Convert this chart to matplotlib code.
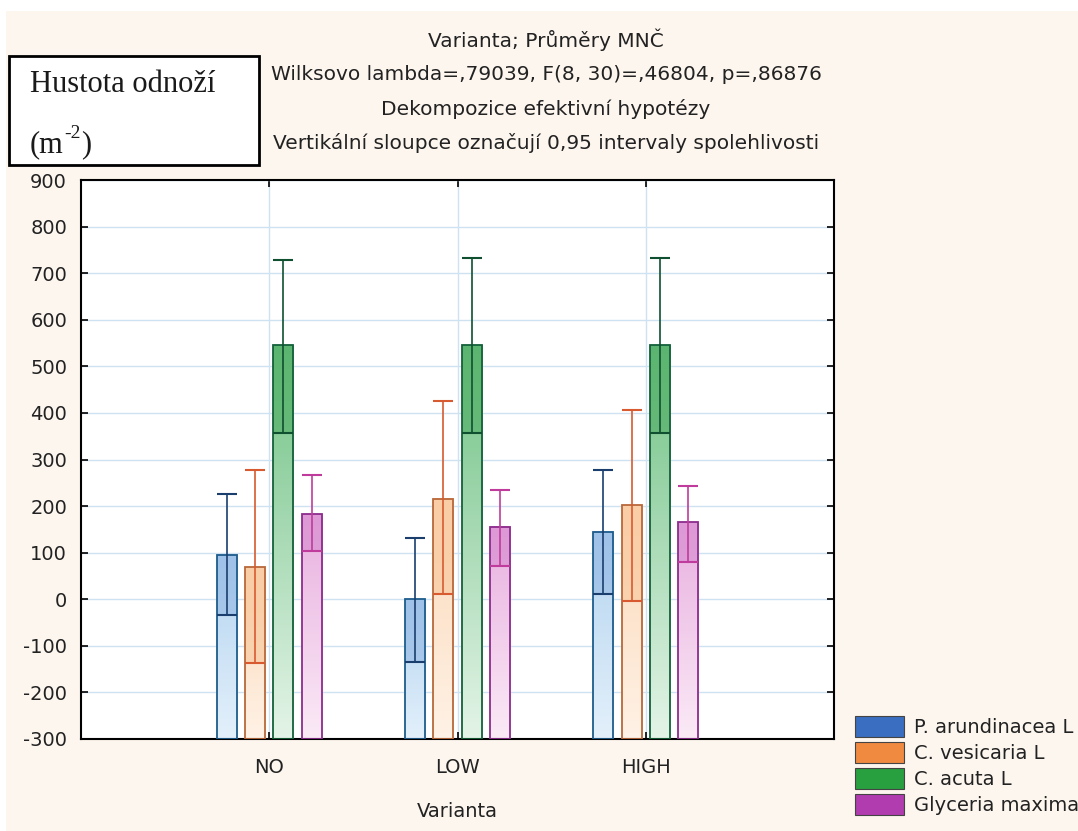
import numpy as np
import matplotlib
matplotlib.use("Agg")
import matplotlib.pyplot as plt
from matplotlib.colors import LinearSegmentedColormap
from matplotlib.patches import Patch, Rectangle
from matplotlib.transforms import offset_copy

plt.rcParams["axes.unicode_minus"] = False

# data
categories = ["NO", "LOW", "HIGH"]
series = ["P. arundinacea L", "C. vesicaria L", "C. acuta L", "Glyceria maxima"]
means = {
    "P. arundinacea L": [96, 0, 145],
    "C. vesicaria L": [69, 216, 202],
    "C. acuta L": [545, 545, 545],
    "Glyceria maxima": [182, 156, 165],
}
upper = {
    "P. arundinacea L": [227, 132, 278],
    "C. vesicaria L": [278, 426, 407],
    "C. acuta L": [729, 733, 733],
    "Glyceria maxima": [266, 235, 244],
}
lower = {
    "P. arundinacea L": [-34, -134, 11],
    "C. vesicaria L": [-137, 11, -4],
    "C. acuta L": [356, 356, 356],
    "Glyceria maxima": [103, 71, 81],
}
yticks = list(range(-300, 1000, 100))

title_lines = [
    "Varianta; Průměry MNČ",
    "Wilksovo lambda=,79039, F(8, 30)=,46804, p=,86876",
    "Dekompozice efektivní hypotézy",
    "Vertikální sloupce označují 0,95 intervaly spolehlivosti",
]

# styling per series: legend colour, gradient bottom/top, CI shade, edge, whisker
styles = {
    "P. arundinacea L": ("#3a6ec0", "#e3f0fb", "#b4d4f0", "#8fb4e2", "#1e5c8c", "#1a3f6e"),
    "C. vesicaria L": ("#f08a40", "#fff2e6", "#fbd8b8", "#f8c496", "#b8683a", "#d85a30"),
    "C. acuta L": ("#28a040", "#e4f4e8", "#70c284", "#4aaa5e", "#14603a", "#0f5030"),
    "Glyceria maxima": ("#b03cb0", "#fbeaf6", "#e8b0e0", "#d486cc", "#8c2c8c", "#c03c9c"),
}

W, H = 1078, 831
fig = plt.figure(figsize=(W / 100, H / 100), dpi=100, facecolor="white")
fig.patches.append(Rectangle((6 / W, 0), 1, 1 - 11 / H, transform=fig.transFigure,
                             facecolor="#fdf6ef", edgecolor="none", zorder=-10))

ax = fig.add_axes([81 / W, 1 - 739 / H, (834 - 81) / W, (739 - 180) / H])
ax.set_facecolor("white")

ymin, ymax = -300, 900
x = np.arange(1, len(categories) + 1)
width = 0.107
offsets = [-0.225, -0.075, 0.075, 0.225]
grad = np.linspace(0, 1, 256).reshape(-1, 1)

for s, off in zip(series, offsets):
    col, bot, top, ci, edge, err = styles[s]
    m = np.array(means[s])
    up = np.array(upper[s])
    lo = np.array(lower[s])
    bars = ax.bar(x + off, m - ymin, bottom=ymin, width=width, facecolor="none",
                  edgecolor=edge, linewidth=1.3, zorder=4)
    cmap = LinearSegmentedColormap.from_list(s, [bot, top])
    for rect in bars:
        x0, y0 = rect.get_x(), rect.get_y()
        ax.imshow(grad, extent=(x0, x0 + rect.get_width(), y0, y0 + rect.get_height()),
                  origin="lower", cmap=cmap, aspect="auto", zorder=2)
    # darker band between lower confidence limit and the mean
    ax.bar(x + off, m - lo, bottom=lo, width=width, facecolor=ci, alpha=0.55,
           edgecolor="none", zorder=3)
    ax.errorbar(x + off, m, yerr=[m - lo, up - m], fmt="none", ecolor=err,
                elinewidth=1.2, capsize=7.2, capthick=1.5, zorder=5)

ax.set_xlim(0, 4)
ax.set_ylim(ymin, ymax)
ax.set_yticks(yticks)
ax.set_xticks(x)
ax.set_xticklabels(categories)
ax.grid(True, color="#cfe2f2", linewidth=1.0, zorder=0)
ax.set_axisbelow(True)
for sp in ax.spines.values():
    sp.set_color("black")
    sp.set_linewidth(1.5)
ax.tick_params(axis="both", direction="in", length=5, width=1.2, colors="black",
               labelsize=14, top=True, right=True)
ax.tick_params(axis="y", pad=10)
ax.tick_params(axis="x", pad=14)
for lab in ax.get_xticklabels() + ax.get_yticklabels():
    lab.set_color("#222222")

ax.set_xlabel("Varianta", fontsize=14, color="#222222")
ax.xaxis.set_label_coords(0.5, -0.112)

# title block
for i, line in enumerate(title_lines):
    fig.text(546 / W, 1 - (40 + 34.3 * i) / H, line, ha="center", va="center",
             fontsize=14.5, color="#222222")

# boxed axis caption
fig.patches.append(Rectangle((9 / W, 1 - 165 / H), 250 / W, 109 / H, transform=fig.transFigure,
                             facecolor="white", edgecolor="black", linewidth=2, zorder=5))
fig.text(30 / W, 1 - 85 / H, "Hustota odnoží", ha="left", va="center",
         fontsize=22, family="Liberation Serif", color="#1a1a1a", zorder=6)
t1 = fig.text(30 / W, 1 - 152 / H, "(m", ha="left", va="baseline",
              fontsize=22, family="Liberation Serif", color="#1a1a1a", zorder=6)
fig.canvas.draw()
r = fig.canvas.get_renderer()
bb = t1.get_window_extent(r)
t2 = fig.text(bb.x1 / W, 1 - 152 / H, "-2", ha="left", va="baseline",
              fontsize=14, family="Liberation Serif", color="#1a1a1a", zorder=6,
              transform=offset_copy(fig.transFigure, fig=fig, x=0.5, y=10, units="points"))
bb2 = t2.get_window_extent(r)
fig.text(bb2.x1 / W, 1 - 152 / H, ")", ha="left", va="baseline",
         fontsize=22, family="Liberation Serif", color="#1a1a1a", zorder=6)

handles = [Patch(facecolor=styles[s][0], edgecolor="#444444", linewidth=0.8) for s in series]
fig.legend(handles, series, loc="upper left", bbox_to_anchor=(855 / W, 1 - 716 / H),
           frameon=False, fontsize=14, handlelength=2.5, handleheight=1.3,
           handletextpad=0.55, labelspacing=0.25, borderpad=0, borderaxespad=0,
           labelcolor="#222222")

fig.savefig("out.png", dpi=100, facecolor=fig.get_facecolor())
